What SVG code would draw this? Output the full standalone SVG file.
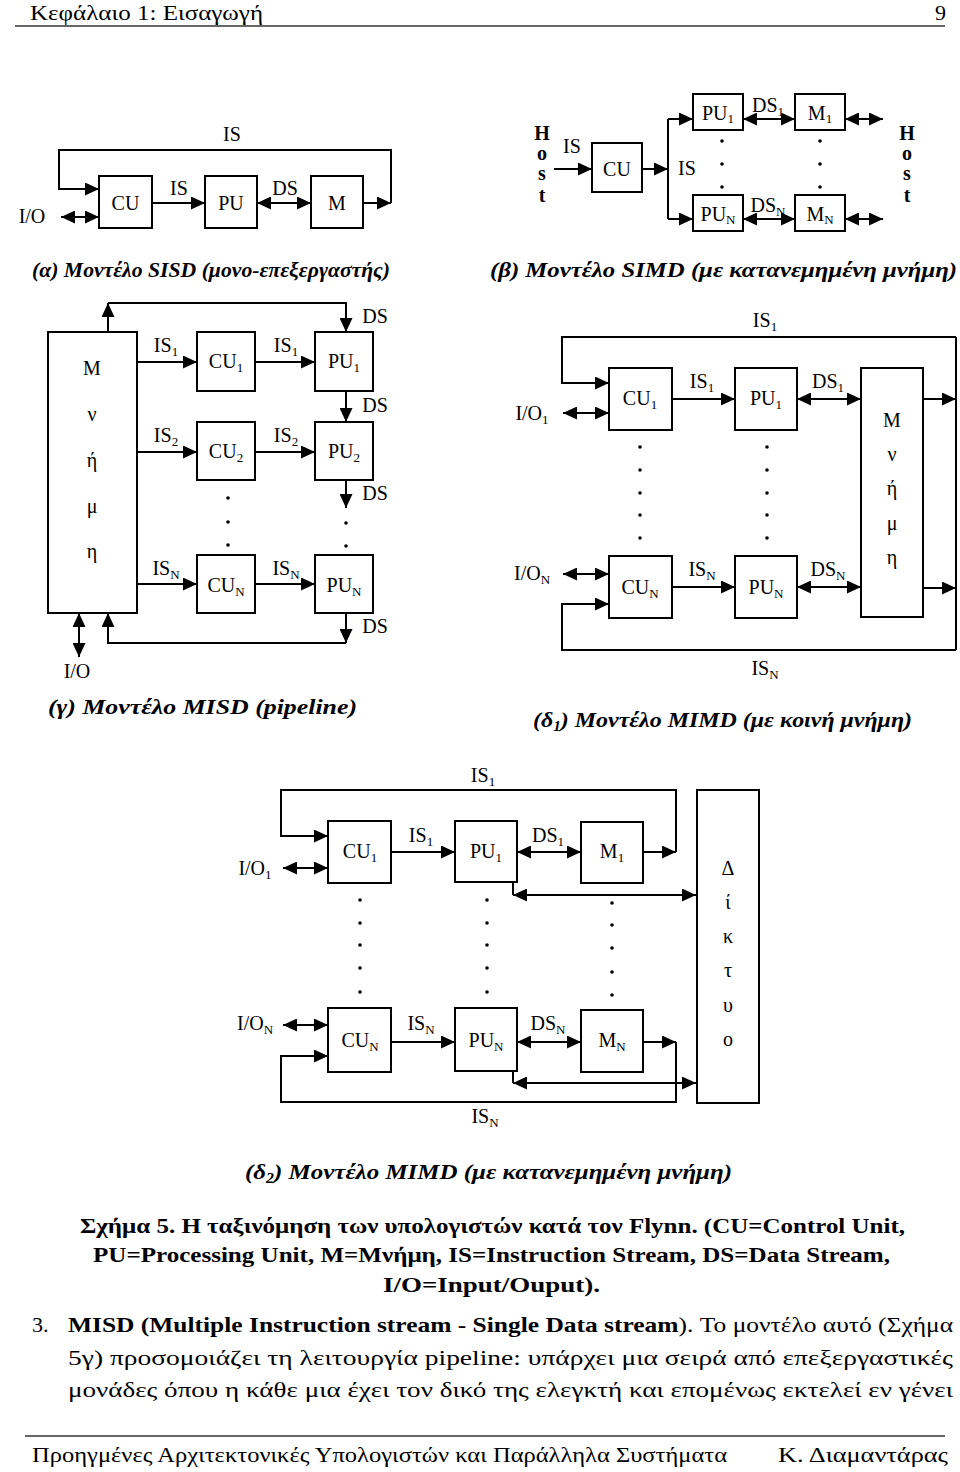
<svg xmlns="http://www.w3.org/2000/svg" width="960" height="1472" viewBox="0 0 960 1472">
<style>
.box{fill:#fff;stroke:#000;stroke-width:2}
.ln{fill:none;stroke:#000;stroke-width:2}
.a{fill:none;stroke:#000;stroke-width:2;marker-end:url(#ah)}
.d{fill:none;stroke:#000;stroke-width:2;marker-start:url(#ah);marker-end:url(#ah)}
.t{font-family:"Liberation Serif","Times New Roman",serif;font-size:20px;text-anchor:middle;fill:#000}
.h{font-family:"Liberation Serif","Times New Roman",serif;font-size:20px;font-weight:bold;text-anchor:middle;fill:#000}
.sub{font-size:13px}
.cap{font-family:"Liberation Serif","Times New Roman",serif;font-size:22px;font-weight:bold;font-style:italic;fill:#000}
.bc{font-family:"Liberation Serif","Times New Roman",serif;font-size:22px;font-weight:bold;fill:#000}
.p{font-family:"Liberation Serif","Times New Roman",serif;font-size:22px;fill:#000}
.dot{fill:#000}
</style>
<defs>
<marker id="ah" markerWidth="14" markerHeight="13" refX="14" refY="6.5" orient="auto-start-reverse" markerUnits="userSpaceOnUse"><path d="M0,0 L14,6.5 L0,13 z" fill="#000"/></marker>
</defs>
<rect width="960" height="1472" fill="#fff"/>

<!-- header -->
<text class="p" x="30" y="20" textLength="233" lengthAdjust="spacingAndGlyphs">Κεφάλαιο 1: Εισαγωγή</text>
<text class="p" x="946" y="20" text-anchor="end">9</text>
<line x1="15" y1="26" x2="945" y2="26" stroke="#666" stroke-width="2"/>

<!-- connectors -->
<g id="connectors">
<!-- (a) SISD -->
<path class="a" d="M363,203 H391"/>
<path class="a" d="M391,203 V150 H59 V189 H99"/>
<path class="a" d="M152,203 H205"/>
<path class="d" d="M257,203 H311"/>
<path class="d" d="M61,217 H99"/>
<!-- (b) SIMD -->
<path class="a" d="M554,169 H592"/>
<path class="a" d="M642,169 H668"/>
<path class="ln" d="M668,119 V219"/>
<path class="a" d="M668,119 H693"/>
<path class="a" d="M668,219 H693"/>
<path class="d" d="M743,119 H795"/>
<path class="d" d="M743,219 H795"/>
<path class="d" d="M845,119 H883"/>
<path class="d" d="M845,219 H883"/>
<!-- (g) MISD -->
<path class="a" d="M108,332 V303"/>
<path class="a" d="M108,303 H346 V332"/>
<path class="a" d="M137,362 H197"/>
<path class="a" d="M255,362 H315"/>
<path class="a" d="M346,391 V422"/>
<path class="a" d="M137,452 H197"/>
<path class="a" d="M255,452 H315"/>
<path class="a" d="M346,480 V508"/>
<path class="a" d="M137,584 H197"/>
<path class="a" d="M255,584 H315"/>
<path class="a" d="M346,613 V643"/>
<path class="a" d="M346,643 H108 V613"/>
<path class="d" d="M79,613 V657"/>
<!-- (d1) MIMD shared -->
<path class="a" d="M923,399 H956"/>
<path class="ln" d="M956,337 V650"/>
<path class="a" d="M956,337 H562 V383 H609"/>
<path class="d" d="M563,413 H609"/>
<path class="a" d="M672,399 H735"/>
<path class="d" d="M797,399 H861"/>
<path class="a" d="M923,588 H956"/>
<path class="a" d="M956,650 H562 V604 H609"/>
<path class="d" d="M563,574 H609"/>
<path class="a" d="M672,587 H735"/>
<path class="d" d="M797,587 H861"/>
<!-- (d2) MIMD distributed -->
<path class="a" d="M643,852 H676"/>
<path class="a" d="M676,852 V790 H281 V836 H328"/>
<path class="d" d="M283,868 H328"/>
<path class="a" d="M391,852 H455"/>
<path class="d" d="M517,852 H581"/>
<path class="ln" d="M513,882 V895"/>
<path class="d" d="M513,895 H696"/>
<path class="a" d="M643,1042 H676"/>
<path class="a" d="M676,1042 V1102 H281 V1056 H328"/>
<path class="d" d="M283,1025 H328"/>
<path class="a" d="M391,1042 H455"/>
<path class="d" d="M517,1042 H581"/>
<path class="ln" d="M513,1071 V1083"/>
<path class="d" d="M513,1083 H696"/>
</g>

<!-- connector labels -->
<g id="labels">
<text class="t" x="232" y="141">IS</text>
<text class="t" x="179" y="195">IS</text>
<text class="t" x="285" y="195">DS</text>
<text class="t" x="32" y="223">I/O</text>

<text class="t" x="572" y="153">IS</text>
<text class="t" x="687" y="175">IS</text>
<text class="t" x="768" y="112">DS<tspan class="sub" dy="4">1</tspan></text>
<text class="t" x="768" y="212">DS<tspan class="sub" dy="4">N</tspan></text>
<text class="h" x="542" y="140">H</text><text class="h" x="542" y="160">o</text><text class="h" x="542" y="180">s</text><text class="h" x="542" y="202">t</text>
<text class="h" x="907" y="140">H</text><text class="h" x="907" y="160">o</text><text class="h" x="907" y="180">s</text><text class="h" x="907" y="202">t</text>

<text class="t" x="375" y="323">DS</text>
<text class="t" x="166" y="352">IS<tspan class="sub" dy="4">1</tspan></text>
<text class="t" x="286" y="352">IS<tspan class="sub" dy="4">1</tspan></text>
<text class="t" x="375" y="412">DS</text>
<text class="t" x="166" y="442">IS<tspan class="sub" dy="4">2</tspan></text>
<text class="t" x="286" y="442">IS<tspan class="sub" dy="4">2</tspan></text>
<text class="t" x="375" y="500">DS</text>
<text class="t" x="166" y="575">IS<tspan class="sub" dy="4">N</tspan></text>
<text class="t" x="286" y="575">IS<tspan class="sub" dy="4">N</tspan></text>
<text class="t" x="375" y="633">DS</text>
<text class="t" x="77" y="678">I/O</text>

<text class="t" x="765" y="327">IS<tspan class="sub" dy="4">1</tspan></text>
<text class="t" x="532" y="420">I/O<tspan class="sub" dy="4">1</tspan></text>
<text class="t" x="702" y="388">IS<tspan class="sub" dy="4">1</tspan></text>
<text class="t" x="828" y="388">DS<tspan class="sub" dy="4">1</tspan></text>
<text class="t" x="532" y="580">I/O<tspan class="sub" dy="4">N</tspan></text>
<text class="t" x="702" y="576">IS<tspan class="sub" dy="4">N</tspan></text>
<text class="t" x="828" y="576">DS<tspan class="sub" dy="4">N</tspan></text>
<text class="t" x="765" y="675">IS<tspan class="sub" dy="4">N</tspan></text>

<text class="t" x="483" y="782">IS<tspan class="sub" dy="4">1</tspan></text>
<text class="t" x="255" y="875">I/O<tspan class="sub" dy="4">1</tspan></text>
<text class="t" x="421" y="842">IS<tspan class="sub" dy="4">1</tspan></text>
<text class="t" x="548" y="842">DS<tspan class="sub" dy="4">1</tspan></text>
<text class="t" x="255" y="1030">I/O<tspan class="sub" dy="4">N</tspan></text>
<text class="t" x="421" y="1030">IS<tspan class="sub" dy="4">N</tspan></text>
<text class="t" x="548" y="1030">DS<tspan class="sub" dy="4">N</tspan></text>
<text class="t" x="485" y="1123">IS<tspan class="sub" dy="4">N</tspan></text>
</g>

<!-- (a) SISD nodes -->
<g id="sisd-cu"><rect class="box" x="99" y="176" width="53" height="52"/><text class="t" x="125.5" y="210">CU</text></g>
<g id="sisd-pu"><rect class="box" x="205" y="176" width="52" height="52"/><text class="t" x="231" y="210">PU</text></g>
<g id="sisd-m"><rect class="box" x="311" y="176" width="52" height="52"/><text class="t" x="337" y="210">M</text></g>

<!-- (b) SIMD nodes -->
<g id="simd-cu"><rect class="box" x="592" y="143" width="50" height="49"/><text class="t" x="617" y="176">CU</text></g>
<g id="simd-pu1"><rect class="box" x="693" y="94" width="50" height="36"/><text class="t" x="718" y="120">PU<tspan class="sub" dy="3">1</tspan></text></g>
<g id="simd-pun"><rect class="box" x="693" y="195" width="50" height="36"/><text class="t" x="718" y="221">PU<tspan class="sub" dy="3">N</tspan></text></g>
<g id="simd-m1"><rect class="box" x="795" y="94" width="50" height="36"/><text class="t" x="820" y="120">M<tspan class="sub" dy="3">1</tspan></text></g>
<g id="simd-mn"><rect class="box" x="795" y="195" width="50" height="36"/><text class="t" x="820" y="221">M<tspan class="sub" dy="3">N</tspan></text></g>
<g id="simd-dots">
<circle class="dot" cx="722" cy="141" r="1.8"/><circle class="dot" cx="722" cy="164" r="1.8"/><circle class="dot" cx="722" cy="187" r="1.8"/>
<circle class="dot" cx="820" cy="141" r="1.8"/><circle class="dot" cx="820" cy="164" r="1.8"/><circle class="dot" cx="820" cy="187" r="1.8"/>
</g>

<!-- (g) MISD nodes -->
<g id="misd-mem"><rect class="box" x="48" y="332" width="89" height="281"/>
<text class="t" x="92" y="375">M</text><text class="t" x="92" y="421">ν</text><text class="t" x="92" y="467">ή</text><text class="t" x="92" y="513">μ</text><text class="t" x="92" y="558">η</text></g>
<g id="misd-cu1"><rect class="box" x="197" y="332" width="58" height="59"/><text class="t" x="226" y="368">CU<tspan class="sub" dy="4">1</tspan></text></g>
<g id="misd-pu1"><rect class="box" x="315" y="332" width="58" height="59"/><text class="t" x="344" y="368">PU<tspan class="sub" dy="4">1</tspan></text></g>
<g id="misd-cu2"><rect class="box" x="197" y="422" width="58" height="58"/><text class="t" x="226" y="458">CU<tspan class="sub" dy="4">2</tspan></text></g>
<g id="misd-pu2"><rect class="box" x="315" y="422" width="58" height="58"/><text class="t" x="344" y="458">PU<tspan class="sub" dy="4">2</tspan></text></g>
<g id="misd-cun"><rect class="box" x="197" y="555" width="58" height="58"/><text class="t" x="226" y="592">CU<tspan class="sub" dy="4">N</tspan></text></g>
<g id="misd-pun"><rect class="box" x="315" y="555" width="58" height="58"/><text class="t" x="344" y="592">PU<tspan class="sub" dy="4">N</tspan></text></g>
<g id="misd-dots">
<circle class="dot" cx="228" cy="498" r="1.8"/><circle class="dot" cx="228" cy="522" r="1.8"/><circle class="dot" cx="228" cy="545" r="1.8"/>
<circle class="dot" cx="346" cy="523" r="1.8"/><circle class="dot" cx="346" cy="546" r="1.8"/>
</g>

<!-- (d1) nodes -->
<g id="mimd1-cu1"><rect class="box" x="609" y="368" width="63" height="62"/><text class="t" x="640" y="405">CU<tspan class="sub" dy="4">1</tspan></text></g>
<g id="mimd1-pu1"><rect class="box" x="735" y="368" width="62" height="62"/><text class="t" x="766" y="405">PU<tspan class="sub" dy="4">1</tspan></text></g>
<g id="mimd1-cun"><rect class="box" x="609" y="556" width="63" height="62"/><text class="t" x="640" y="594">CU<tspan class="sub" dy="4">N</tspan></text></g>
<g id="mimd1-pun"><rect class="box" x="735" y="556" width="62" height="62"/><text class="t" x="766" y="594">PU<tspan class="sub" dy="4">N</tspan></text></g>
<g id="mimd1-mem"><rect class="box" x="861" y="368" width="62" height="249"/>
<text class="t" x="892" y="427">M</text><text class="t" x="892" y="461">ν</text><text class="t" x="892" y="495">ή</text><text class="t" x="892" y="530">μ</text><text class="t" x="892" y="564">η</text></g>
<g id="mimd1-dots">
<circle class="dot" cx="640" cy="447" r="1.8"/><circle class="dot" cx="640" cy="470" r="1.8"/><circle class="dot" cx="640" cy="493" r="1.8"/><circle class="dot" cx="640" cy="515" r="1.8"/><circle class="dot" cx="640" cy="538" r="1.8"/>
<circle class="dot" cx="767" cy="447" r="1.8"/><circle class="dot" cx="767" cy="470" r="1.8"/><circle class="dot" cx="767" cy="493" r="1.8"/><circle class="dot" cx="767" cy="515" r="1.8"/><circle class="dot" cx="767" cy="538" r="1.8"/>
</g>

<!-- (d2) nodes -->
<g id="mimd2-cu1"><rect class="box" x="328" y="821" width="63" height="62"/><text class="t" x="360" y="858">CU<tspan class="sub" dy="4">1</tspan></text></g>
<g id="mimd2-pu1"><rect class="box" x="455" y="821" width="62" height="61"/><text class="t" x="486" y="858">PU<tspan class="sub" dy="4">1</tspan></text></g>
<g id="mimd2-m1"><rect class="box" x="581" y="822" width="62" height="61"/><text class="t" x="612" y="858">M<tspan class="sub" dy="4">1</tspan></text></g>
<g id="mimd2-cun"><rect class="box" x="328" y="1008" width="63" height="64"/><text class="t" x="360" y="1047">CU<tspan class="sub" dy="4">N</tspan></text></g>
<g id="mimd2-pun"><rect class="box" x="455" y="1008" width="62" height="63"/><text class="t" x="486" y="1047">PU<tspan class="sub" dy="4">N</tspan></text></g>
<g id="mimd2-mn"><rect class="box" x="581" y="1010" width="62" height="62"/><text class="t" x="612" y="1047">M<tspan class="sub" dy="4">N</tspan></text></g>
<g id="mimd2-net"><rect class="box" x="697" y="790" width="62" height="313"/>
<text class="t" x="728" y="875">Δ</text><text class="t" x="728" y="909">ί</text><text class="t" x="728" y="943">κ</text><text class="t" x="728" y="977">τ</text><text class="t" x="728" y="1012">υ</text><text class="t" x="728" y="1046">ο</text></g>
<g id="mimd2-dots">
<circle class="dot" cx="360" cy="900" r="1.8"/><circle class="dot" cx="360" cy="923" r="1.8"/><circle class="dot" cx="360" cy="945" r="1.8"/><circle class="dot" cx="360" cy="968" r="1.8"/><circle class="dot" cx="360" cy="992" r="1.8"/>
<circle class="dot" cx="487" cy="900" r="1.8"/><circle class="dot" cx="487" cy="923" r="1.8"/><circle class="dot" cx="487" cy="945" r="1.8"/><circle class="dot" cx="487" cy="968" r="1.8"/><circle class="dot" cx="487" cy="992" r="1.8"/>
<circle class="dot" cx="612" cy="903" r="1.8"/><circle class="dot" cx="612" cy="925" r="1.8"/><circle class="dot" cx="612" cy="948" r="1.8"/><circle class="dot" cx="612" cy="972" r="1.8"/><circle class="dot" cx="612" cy="995" r="1.8"/>
</g>

<!-- captions -->
<text class="cap" x="32" y="277" textLength="358" lengthAdjust="spacingAndGlyphs">(α) Μοντέλο SISD (μονο-επεξεργαστής)</text>
<text class="cap" x="490" y="277" textLength="467" lengthAdjust="spacingAndGlyphs">(β) Μοντέλο SIMD (με κατανεμημένη μνήμη)</text>
<text class="cap" x="48" y="714" textLength="309" lengthAdjust="spacingAndGlyphs">(γ) Μοντέλο MISD (pipeline)</text>
<text class="cap" x="533" y="727" textLength="379" lengthAdjust="spacingAndGlyphs">(δ<tspan font-size="14" dy="4">1</tspan><tspan dy="-4">) Μοντέλο MIMD (με κοινή μνήμη)</tspan></text>
<text class="cap" x="245" y="1179" textLength="487" lengthAdjust="spacingAndGlyphs">(δ<tspan font-size="14" dy="4">2</tspan><tspan dy="-4">) Μοντέλο MIMD (με κατανεμημένη μνήμη)</tspan></text>

<text class="bc" x="80" y="1233" textLength="825" lengthAdjust="spacingAndGlyphs">Σχήμα 5. Η ταξινόμηση των υπολογιστών κατά τον Flynn. (CU=Control Unit,</text>
<text class="bc" x="93" y="1262" textLength="797" lengthAdjust="spacingAndGlyphs">PU=Processing Unit, M=Μνήμη, IS=Instruction Stream, DS=Data Stream,</text>
<text class="bc" x="383" y="1292" textLength="217" lengthAdjust="spacingAndGlyphs">I/O=Input/Ouput).</text>

<text class="p" x="32" y="1332">3.</text>
<text class="p" x="68" y="1332" textLength="885" lengthAdjust="spacingAndGlyphs"><tspan font-weight="bold">MISD (Multiple Instruction stream - Single Data stream</tspan>). Το μοντέλο αυτό (Σχήμα</text>
<text class="p" x="68" y="1365" textLength="885" lengthAdjust="spacingAndGlyphs">5γ) προσομοιάζει τη λειτουργία pipeline: υπάρχει μια σειρά από επεξεργαστικές</text>
<text class="p" x="68" y="1397" textLength="885" lengthAdjust="spacingAndGlyphs">μονάδες όπου η κάθε μια έχει τον δικό της ελεγκτή και επομένως εκτελεί εν γένει</text>

<!-- footer -->
<line x1="25" y1="1436" x2="945" y2="1436" stroke="#666" stroke-width="2"/>
<text class="p" x="32" y="1462" textLength="695" lengthAdjust="spacingAndGlyphs">Προηγμένες Αρχιτεκτονικές Υπολογιστών και Παράλληλα Συστήματα</text>
<text class="p" x="778" y="1462" textLength="170" lengthAdjust="spacingAndGlyphs">Κ. Διαμαντάρας</text>
</svg>
